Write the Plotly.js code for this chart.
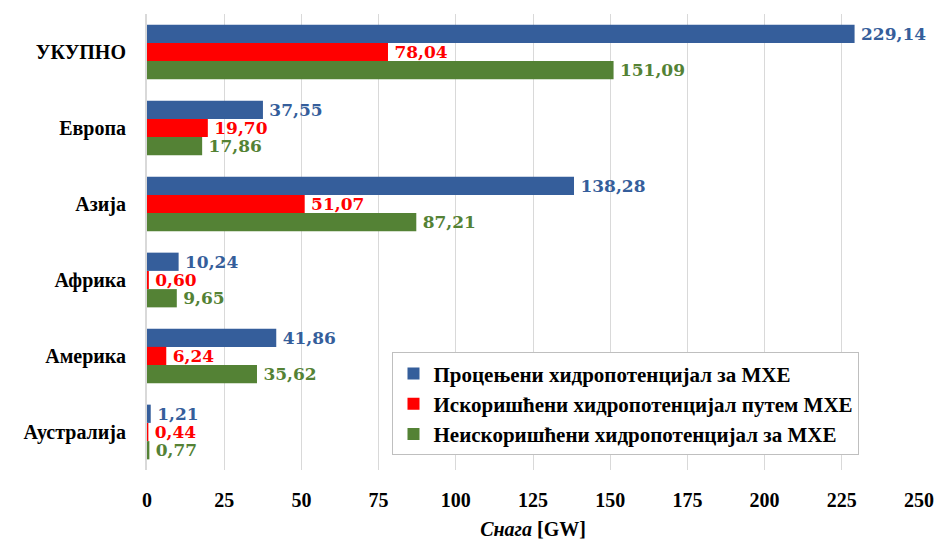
<!DOCTYPE html>
<html><head><meta charset="utf-8">
<script src="https://cdn.plot.ly/plotly-3.0.1.min.js"></script>
<style>body{margin:0}#c{width:946px;height:540px}</style>
</head><body><div id="c"></div>
<script>
const categories = ["УКУПНО","Европа","Азија","Африка","Америка","Аустралија"];
const seriesNames = ["Процењени хидропотенцијал за МХЕ","Искоришћени хидропотенцијал путем МХЕ","Неискоришћени хидропотенцијал за МХЕ"];
const estimated = [229.14, 37.55, 138.28, 10.24, 41.86, 1.21];
const used = [78.04, 19.70, 51.07, 0.60, 6.24, 0.44];
const unused = [151.09, 17.86, 87.21, 9.65, 35.62, 0.77];
const xTicks = [0,25,50,75,100,125,150,175,200,225,250];
const colors = ["#355E9B","#FF0000","#548235"];
const serif = "Liberation Serif, DejaVu Serif, serif";
const wideSerif = "DejaVu Serif, Liberation Serif, serif";
const fmt = v => '\u2009' + v.toFixed(2).replace('.', ',');
const data = [estimated, used, unused].map((vals, i) => ({
  type: 'bar', orientation: 'h', name: seriesNames[i],
  x: vals, y: categories,
  marker: {color: colors[i]},
  text: vals.map(fmt), textposition: 'outside', cliponaxis: false,
  constraintext: 'none',
  textfont: {family: wideSerif, size: 17, color: colors[i], weight: 'bold'},
  hoverinfo: 'x+y'
}));
const layout = {
  width: 946, height: 540,
  margin: {l: 147, r: 27, t: 14, b: 70},
  barmode: 'group', bargap: 0.28, bargroupgap: 0,
  plot_bgcolor: '#fff', paper_bgcolor: '#fff',
  font: {family: serif, color: '#000'},
  xaxis: {range: [0, 250], tickvals: xTicks, ticktext: xTicks.map(String),
    showgrid: true, gridcolor: '#d9d9d9', gridwidth: 1, zeroline: false,
    tickfont: {family: serif, size: 20, weight: 'bold'},
    ticks: 'outside', ticklen: 12, tickcolor: 'rgba(0,0,0,0)',
    title: {text: '<i>Снага</i> [GW]', font: {family: serif, size: 20, weight: 'bold'}, standoff: 12},
    fixedrange: true},
  yaxis: {autorange: 'reversed', showgrid: false, zeroline: false,
    showline: true, linecolor: '#d9d9d9', linewidth: 2,
    tickfont: {family: serif, size: 20, weight: 'bold'}, ticks: '', ticklen: 0,
    ticksuffix: '   '},
  legend: {x: 0.318, y: 0.258, xanchor: 'left', yanchor: 'top',
    bgcolor: '#fff', bordercolor: '#bfbfbf', borderwidth: 1,
    font: {family: serif, size: 21, weight: 'bold', color: '#000'},
    tracegroupgap: 0, itemwidth: 30},
  showlegend: true
};
Plotly.newPlot('c', data, layout, {displayModeBar: false, staticPlot: true});
</script></body></html>
